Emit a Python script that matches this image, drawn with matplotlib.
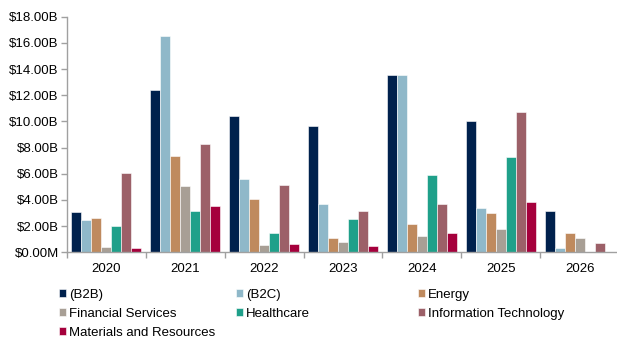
import numpy as np
import matplotlib.pyplot as plt
from matplotlib.ticker import FuncFormatter

plt.rcParams['font.family'] = ['Liberation Sans', 'DejaVu Sans']

years = ['2020', '2021', '2022', '2023', '2024', '2025', '2026']

# deal value by sector, $B
b2b = [3.08, 12.37, 10.44, 9.67, 13.57, 10.00, 3.16]
b2c = [2.47, 16.52, 5.60, 3.69, 13.52, 3.38, 0.33]
energy = [2.62, 7.33, 4.05, 1.09, 2.16, 2.98, 1.45]
financial = [0.40, 5.09, 0.56, 0.81, 1.25, 1.76, 1.09]
healthcare = [2.03, 3.16, 1.47, 2.52, 5.88, 7.28, 0.0]
info_tech = [6.06, 8.27, 5.17, 3.18, 3.69, 10.69, 0.69]
materials = [0.33, 3.54, 0.63, 0.46, 1.47, 3.82, 0.0]

names = ['(B2B)', '(B2C)', 'Energy', 'Financial Services', 'Healthcare',
         'Information Technology', 'Materials and Resources']
series = [b2b, b2c, energy, financial, healthcare, info_tech, materials]
colors = ['#00214d', '#8fb8c9', '#bf8a5e', '#a89f95', '#1fa08a',
          '#9c6068', '#a5003c']

fig = plt.figure(figsize=(6.17, 3.42), dpi=100)
ax = fig.add_axes([67 / 617, 1 - 252.3 / 342, 552 / 617, (252.3 - 16.7) / 342])

x = np.arange(len(years))
w = 0.127
bars = []
for i, (vals, c, n) in enumerate(zip(series, colors, names)):
    b = ax.bar(x + (i - 3) * w, vals, w, color=c, label=n,
               edgecolor='white', linewidth=0.4)
    bars.append(b)

ax.set_xlim(-0.5, 6.5)
ax.set_ylim(0, 18)
ax.set_yticks(np.arange(0, 19, 2))

def money(v, pos):
    if v == 0:
        return '$0.00M'
    return '${:.2f}B'.format(v)

ax.yaxis.set_major_formatter(FuncFormatter(money))

ax.set_xticks(x)
ax.set_xticklabels(years)
ax.set_xticks(np.arange(-0.5, 7, 1), minor=True)
ax.tick_params(axis='x', which='major', length=0, pad=8, labelsize=9.5, colors='black')
ax.tick_params(axis='x', which='minor', length=4, color='#a0a0a0', width=1)
ax.tick_params(axis='y', length=4, color='#a0a0a0', width=1, pad=2, labelsize=9.5)

for s in ['top', 'right']:
    ax.spines[s].set_visible(False)
for s in ['left', 'bottom']:
    ax.spines[s].set_color('#a0a0a0')
    ax.spines[s].set_linewidth(1)

# legend in three columns placed by hand
cols = [[0, 3, 6], [1, 4], [2, 5]]
xs = [59, 236, 418]
for col, px in zip(cols, xs):
    leg = fig.legend([bars[i] for i in col], [names[i] for i in col],
                     loc='upper left', bbox_to_anchor=(px / 617, 1 - 289 / 342),
                     frameon=False, fontsize=9.5, handlelength=0.55,
                     handleheight=0.55, handletextpad=0.2, labelspacing=0.52,
                     borderpad=0, borderaxespad=0)

fig.savefig('out.png', dpi=100)
